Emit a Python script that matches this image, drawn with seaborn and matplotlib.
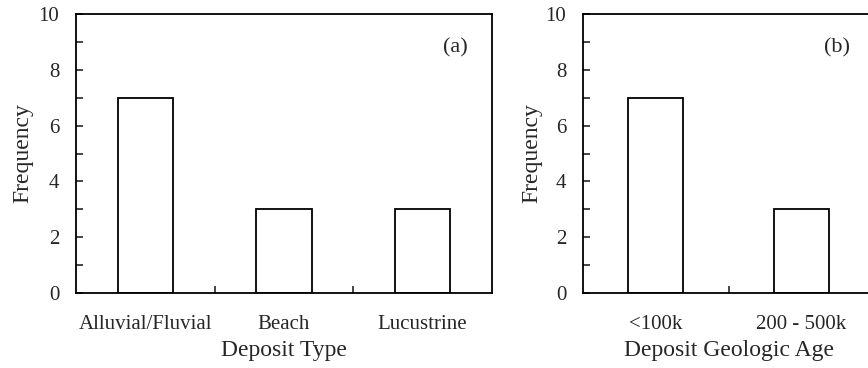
import matplotlib
matplotlib.use("Agg")
import matplotlib.pyplot as plt
from matplotlib.ticker import MultipleLocator, FixedLocator
import seaborn as sns

# data
deposit_types = ["Alluvial/Fluvial", "Beach", "Lucustrine"]
type_counts = [7, 3, 3]
deposit_ages = ["<100k", "200 - 500k"]
age_counts = [7, 3]

sns.set_style("white")
plt.rcParams['font.family'] = ['Liberation Serif', 'DejaVu Serif']

fig = plt.figure(figsize=(8.68, 3.68), dpi=100)
ax_a = fig.add_axes([76 / 868, 75 / 368, 416 / 868, 279 / 368])
ax_b = fig.add_axes([583 / 868, 75 / 368, 291 / 868, 279 / 368])


def style_panel(ax, cats, counts, xlabel, tag, tag_x, bar_w, ypad):
    sns.barplot(x=cats, y=counts, ax=ax, color="white", saturation=1,
                edgecolor="black", linewidth=1.3, width=bar_w)
    ax.set_xlim(-0.5, len(cats) - 0.5)
    ax.set_ylim(0, 10)
    ax.yaxis.set_major_locator(MultipleLocator(2))
    ax.yaxis.set_minor_locator(MultipleLocator(1))
    ax.tick_params(axis='y', which='both', direction='in', length=5, width=1.2,
                   left=True, right=False, labelsize=15, pad=12)
    ax.xaxis.set_minor_locator(FixedLocator([i + 0.5 for i in range(len(cats) - 1)]))
    ax.tick_params(axis='x', which='major', length=0, labelsize=15, pad=16)
    ax.tick_params(axis='x', which='minor', direction='in', length=5, width=1.2,
                   bottom=True)
    for s in ax.spines.values():
        s.set_visible(True)
        s.set_color("black")
        s.set_linewidth(1.3)
    ax.set_xlabel(xlabel, fontsize=17, labelpad=4)
    ax.set_ylabel("Frequency", fontsize=17, labelpad=ypad)
    ax.text(tag_x, 0.878, tag, transform=ax.transAxes, fontsize=16,
            ha='center', va='center')


style_panel(ax_a, deposit_types, type_counts, "Deposit Type", "(a)", 0.911, 0.4, 4)
style_panel(ax_b, deposit_ages, age_counts, "Deposit Geologic Age", "(b)", 0.874, 0.38, 2)

fig.savefig("out.png", dpi=100)
